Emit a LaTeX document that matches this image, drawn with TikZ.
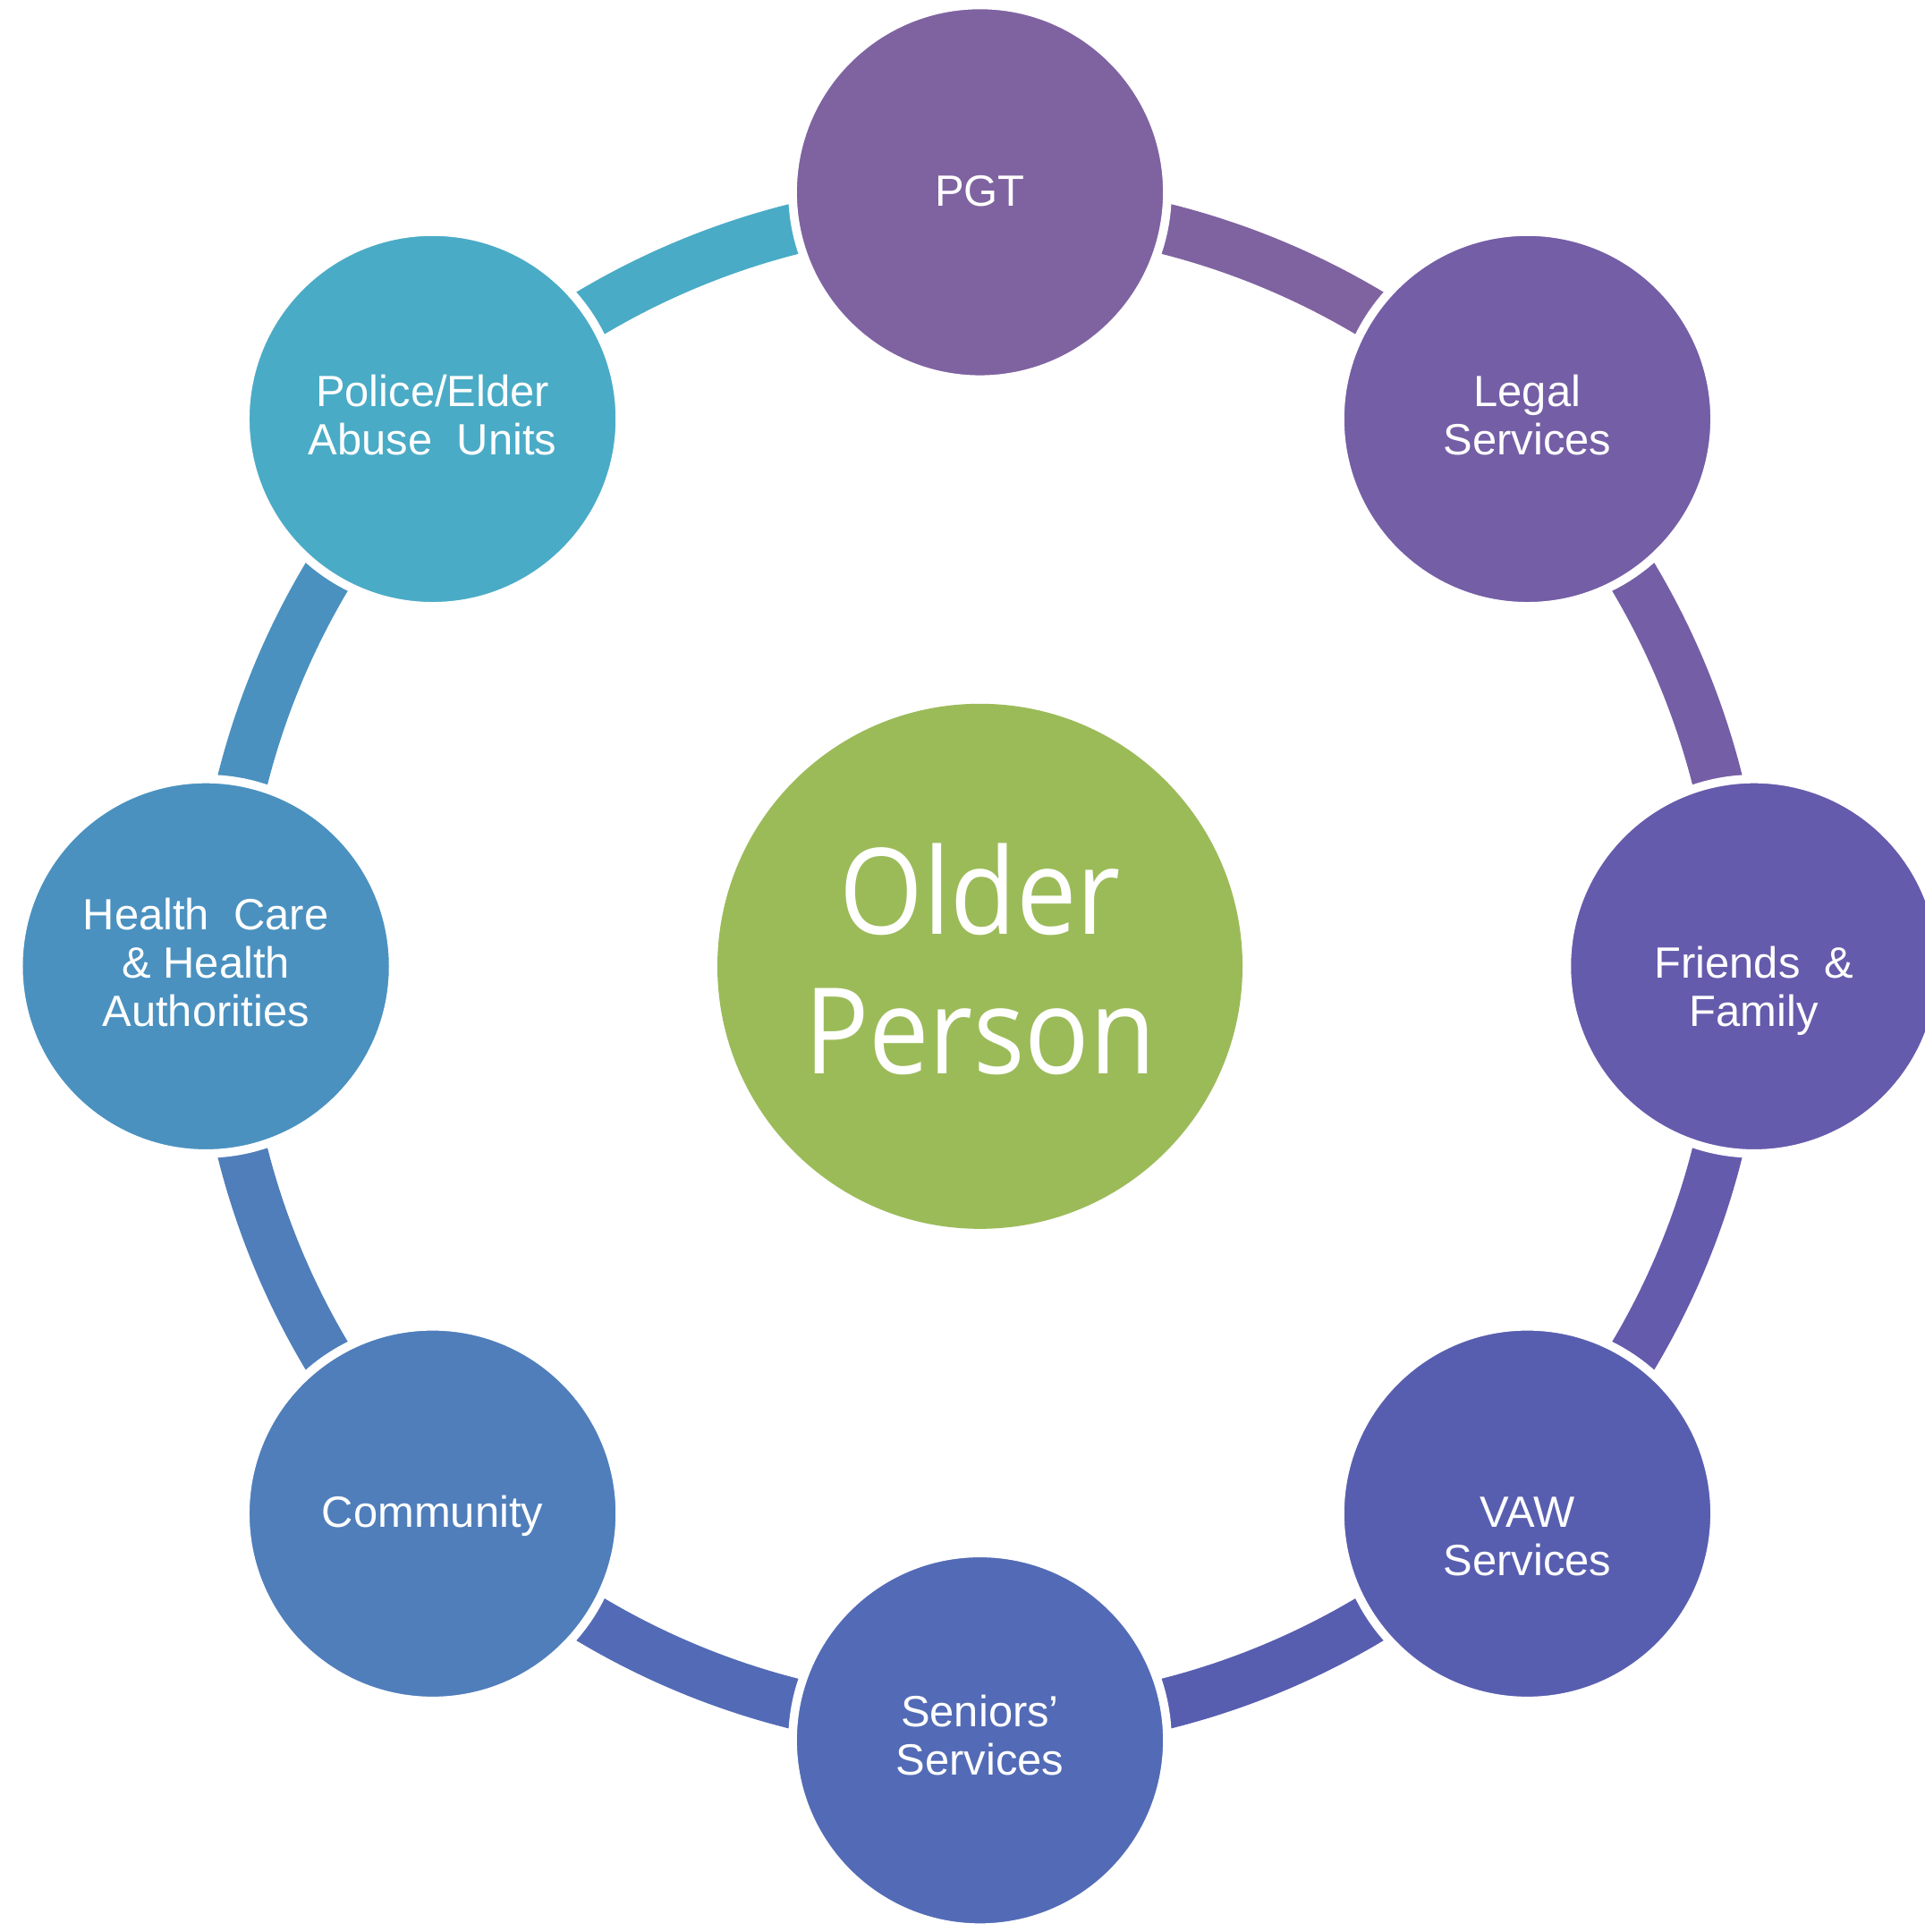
\documentclass[tikz,border=0pt]{standalone}
\usepackage{fontspec}
\setmainfont{Liberation Sans}
\newfontfamily\olderfont{Open Sans}[FakeStretch=0.9]
\usetikzlibrary{backgrounds}
\definecolor{cPGT}{HTML}{7F63A1}
\definecolor{cLegal}{HTML}{745EA6}
\definecolor{cFriends}{HTML}{655BAC}
\definecolor{cVAW}{HTML}{585EAF}
\definecolor{cSeniors}{HTML}{536BB6}
\definecolor{cCommunity}{HTML}{4F7EBB}
\definecolor{cHealth}{HTML}{4A91C0}
\definecolor{cPolice}{HTML}{4AABC6}
\definecolor{cHub}{HTML}{9BBB59}
\begin{document}
\begin{tikzpicture}[x=1pt,y=1pt,
  ring/.style={line width=41pt, draw=#1},
  outer/.style={circle, fill=#1, draw=white, line width=7pt, minimum size=304pt, inner sep=0pt},
  lbl/.style={text=white, font=\fontsize{35.5}{39}\selectfont, align=center, inner sep=0pt},
  hub/.style={circle, fill=cHub, minimum size=426pt, inner sep=0pt},
  hubtext/.style={text=white, font=\olderfont\fontsize{97}{113}\selectfont, align=center, inner sep=0pt}]
\useasboundingbox (0,0) rectangle (1561,1567.5);
\coordinate (C) at (795,783.5);
% outer circles
\node[outer=cPGT]       (pgt)       at ([shift={(90:628)}]C)   {};
\node[outer=cLegal]     (legal)     at ([shift={(45:628)}]C)   {};
\node[outer=cFriends]   (friends)   at ([shift={(0:628)}]C)    {};
\node[outer=cVAW]       (vaw)       at ([shift={(-45:628)}]C)  {};
\node[outer=cSeniors]   (seniors)   at ([shift={(-90:628)}]C)  {};
\node[outer=cCommunity] (community) at ([shift={(-135:628)}]C) {};
\node[outer=cHealth]    (health)    at ([shift={(180:628)}]C)  {};
\node[outer=cPolice]    (police)    at ([shift={(135:628)}]C)  {};
% ring segments (band circle of radius 617 around the hub)
\begin{scope}[on background layer]
\draw[ring=cPGT]       ([shift={(-90:11)}]pgt.center)      arc[start angle=90,   end angle=45,   radius=617];
\draw[ring=cLegal]     ([shift={(-135:11)}]legal.center)   arc[start angle=45,   end angle=0,    radius=617];
\draw[ring=cFriends]   ([shift={(180:11)}]friends.center)  arc[start angle=0,    end angle=-45,  radius=617];
\draw[ring=cVAW]       ([shift={(135:11)}]vaw.center)      arc[start angle=-45,  end angle=-90,  radius=617];
\draw[ring=cSeniors]   ([shift={(90:11)}]seniors.center)   arc[start angle=-90,  end angle=-135, radius=617];
\draw[ring=cCommunity] ([shift={(45:11)}]community.center) arc[start angle=-135, end angle=-180, radius=617];
\draw[ring=cHealth]    ([shift={(0:11)}]health.center)     arc[start angle=180,  end angle=135,  radius=617];
\draw[ring=cPolice]    ([shift={(-45:11)}]police.center)   arc[start angle=135,  end angle=90,   radius=617];
\end{scope}
% labels
\node[lbl] (pgtT)       at ([yshift=1]pgt.center)        {PGT};
\node[lbl] (legalT)     at ([yshift=3]legal.center)      {Legal\\Services};
\node[lbl] (friendsT)   at ([yshift=-20]friends.center)  {Friends\ \ \&\\Family};
\node[lbl] (vawT)       at ([yshift=-18.5]vaw.center)    {VAW\\Services};
\node[lbl] (seniorsT)   at ([yshift=4]seniors.center)    {Seniors’\\Services};
\node[lbl] (communityT) at ([yshift=-2]community.center) {Community};
\node[lbl] (healthT)    at ([yshift=3]health.center)     {Health\ \ Care\\\& Health\\Authorities};
\node[lbl] (policeT)    at ([yshift=3]police.center)     {Police/Elder\\Abuse\ \ Units};
% hub
\node[hub] (hub) at (C) {};
\node[hubtext] (hubT) at ([yshift=6]hub.center) {Older\\Person};
\end{tikzpicture}
\end{document}
